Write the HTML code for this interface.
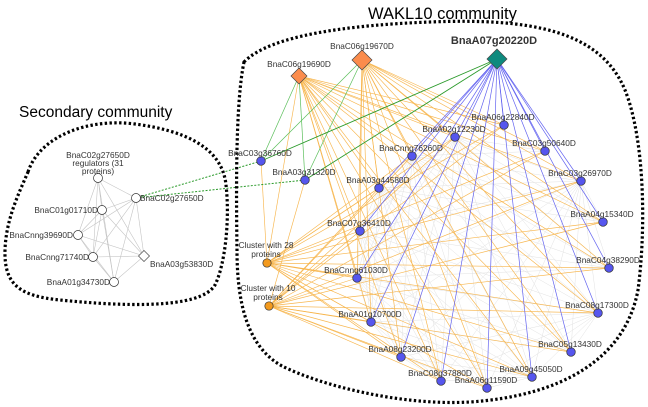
<!DOCTYPE html>
<html><head><meta charset="utf-8"><style>
html,body{margin:0;padding:0;background:#fff;}
svg{display:block;font-family:"Liberation Sans",sans-serif;}
</style></head><body>
<svg id="s" width="648" height="407" viewBox="0 0 648 407" xmlns="http://www.w3.org/2000/svg">
<rect width="648" height="407" fill="#fff"/>
<g id="bg"></g>
<path d="M28 172 C40 135 90 118 135 124 C180 130 222 145 226 185 C230 220 225 265 215 285 C200 310 120 306 60 300 C20 296 4 285 5 250 C6 220 18 195 28 172 Z" fill="none" stroke="#000" stroke-width="3.2" stroke-dasharray="2.4 2.4"/>
<path d="M244 62 C270 35 350 25 430 22 C530 18 600 30 625 90 C645 140 646 230 638 290 C625 360 560 396 470 402 C400 406 320 385 282 366 C246 346 237 300 237 250 C236 180 236 100 244 62 Z" fill="none" stroke="#000" stroke-width="3.2" stroke-dasharray="2.4 2.4"/>
<text x="19" y="117" font-size="15.5" fill="#000">Secondary community</text>
<text x="368" y="19" font-size="16.5" fill="#000">WAKL10 community</text>
<g id="fg"></g>
</svg>
<script>
var NS="http://www.w3.org/2000/svg";
var bg=document.getElementById("bg"),fg=document.getElementById("fg");
function L(p,a,b,c,w,d){var e=document.createElementNS(NS,"line");e.setAttribute("x1",a[0]);e.setAttribute("y1",a[1]);e.setAttribute("x2",b[0]);e.setAttribute("y2",b[1]);e.setAttribute("stroke",c);e.setAttribute("stroke-width",w||0.7);if(d)e.setAttribute("stroke-dasharray",d);p.appendChild(e);}
function T(x,y,t,a,s,wt){var e=document.createElementNS(NS,"text");e.setAttribute("x",x);e.setAttribute("y",y);e.setAttribute("font-size",s||8.3);e.setAttribute("fill","#333");e.setAttribute("text-anchor",a||"middle");if(wt)e.setAttribute("font-weight",wt);e.textContent=t;fg.appendChild(e);}
var B={"BnaA06g22840D":[504,125],"BnaA02g12230D":[455,137],"BnaCnng76260D":[412,156],"BnaC03g50640D":[545,151],"BnaC03g36760D":[261,161],"BnaA03g31320D":[305,180],"BnaA03g44580D":[379,188],"BnaC03g26970D":[581,181],"BnaA04g15340D":[603,222],"BnaC07g36410D":[360,231],"BnaCnng61030D":[357,278],"BnaC04g38290D":[609,268],"BnaA01g10700D":[371,322],"BnaC08g17300D":[598,313],"BnaC05g13430D":[571,352],"BnaA08g23200D":[401,357],"BnaA09g45050D":[532,377],"BnaC08g37880D":[441,381],"BnaA06g11590D":[487,388]};
var keys=Object.keys(B);
var D1=[299,76],D2=[362,60],TE=[497,59],C28=[267,263],C10=[269,306];
var main=["BnaA06g22840D","BnaA02g12230D","BnaCnng76260D","BnaC03g50640D","BnaA03g44580D","BnaC03g26970D","BnaA04g15340D","BnaC07g36410D","BnaCnng61030D","BnaC04g38290D","BnaA01g10700D","BnaC08g17300D","BnaC05g13430D","BnaA08g23200D","BnaA09g45050D","BnaC08g37880D","BnaA06g11590D"];
for(var i=0;i<main.length;i++)for(var j=i+1;j<main.length;j++)if((i*7+j*3)%3!=0)L(bg,B[main[i]],B[main[j]],"#e2e2e2",0.5);
var O="#f7b64e";
[D1,D2,C28,C10].forEach(function(s){main.forEach(function(k){L(bg,s,B[k],O,0.65);});});
L(bg,D1,C28,O,0.65);L(bg,C28,B["BnaC03g36760D"],O,0.65);L(bg,C10,B["BnaA03g31320D"],O,0.65);
main.forEach(function(k){L(bg,TE,B[k],"#6464f0",0.7);});
var G="#5cbf5c";
[D1,D2].forEach(function(s){L(bg,s,B["BnaC03g36760D"],G,0.7);L(bg,s,B["BnaA03g31320D"],G,0.7);});
L(bg,TE,B["BnaC03g36760D"],"#2a9a2a",0.9);L(bg,TE,B["BnaA03g31320D"],"#2a9a2a",0.9);
var C2=[136,198];
L(bg,B["BnaC03g36760D"],C2,"#2a9a2a",1,"2 1.5");L(bg,B["BnaA03g31320D"],C2,"#2a9a2a",1,"2 1.5");
var S={r:[98,178],c1:[102,210],c3:[78,235],c7:[93,257],a3:[144,256],a1:[114,282]};
var sl=[S.r,C2,S.c1,S.c3,S.c7,S.a3,S.a1];
for(var i=0;i<sl.length;i++)for(var j=i+1;j<sl.length;j++)L(fg,sl[i],sl[j],"#c4c4c4",0.6);
function circ(p,r,f,s){var e=document.createElementNS(NS,"circle");e.setAttribute("cx",p[0]);e.setAttribute("cy",p[1]);e.setAttribute("r",r);e.setAttribute("fill",f);e.setAttribute("stroke",s||"#333");e.setAttribute("stroke-width",0.7);fg.appendChild(e);}
function dia(p,r,f){var e=document.createElementNS(NS,"polygon");e.setAttribute("points",[p[0],p[1]-r,p[0]+r,p[1],p[0],p[1]+r,p[0]-r,p[1]].join(" "));e.setAttribute("fill",f);e.setAttribute("stroke","#444");e.setAttribute("stroke-width",0.7);fg.appendChild(e);}
[C2,S.r,S.c1,S.c3,S.c7,S.a1].forEach(function(p){circ(p,4.5,"#fff");});
dia(S.a3,5.5,"#fff");
keys.forEach(function(k){circ(B[k],4.3,"#5656ee");});
circ(C28,4.2,"#f39a1e");circ(C10,4.2,"#f39a1e");
dia(D1,8,"#fb8c4c");dia(D2,10,"#fb8c4c");dia(TE,10,"#0e8a7e");
keys.forEach(function(k){var p=B[k];T(p[0]-1,p[1]-5,k);});
T(299,67,"BnaC06g19690D");T(362,49,"BnaC06g19670D");T(494,44,"BnaA07g20220D","middle",11,"bold");
T(266,248,"Cluster with 28");T(266,257,"proteins");T(268,291,"Cluster with 10");T(268,300,"proteins");
T(98,158,"BnaC02g27650D");T(98,166,"regulators (31");T(98,174,"proteins)");
T(140,201,"BnaC02g27650D","start");T(98,213,"BnaC01g01710D","end");T(73,238,"BnaCnng39690D","end");T(89,260,"BnaCnng71740D","end");T(150,267,"BnaA03g53830D","start");T(110,285,"BnaA01g34730D","end");
</script>
</body></html>
